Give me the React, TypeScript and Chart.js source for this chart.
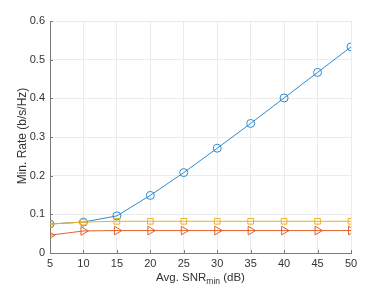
import React, { useEffect, useRef } from "react";
import { Chart, registerables } from "chart.js";

Chart.register(...registerables);

const snr = [5, 10, 15, 20, 25, 30, 35, 40, 45, 50];
const blueRate = [0.075, 0.08, 0.096, 0.149, 0.208, 0.271, 0.335, 0.401, 0.467, 0.533];
const orangeRate = [0.046, 0.057, 0.058, 0.058, 0.058, 0.058, 0.058, 0.058, 0.058, 0.058];
const yellowRate = [0.075, 0.08, 0.082, 0.082, 0.082, 0.082, 0.082, 0.082, 0.082, 0.082];
const yTicks = [0, 0.1, 0.2, 0.3, 0.4, 0.5, 0.6];

const FONT = "'Liberation Sans', Arial, Helvetica, sans-serif";
const TEXT = "#333333";
const AXIS = "#7a7a7a";

const titlesPlugin = {
  id: "titles",
  afterDraw(chart: any) {
    const { ctx, chartArea, scales } = chart;
    ctx.save();
    // inward tick marks
    ctx.strokeStyle = AXIS;
    ctx.lineWidth = 1;
    ctx.beginPath();
    snr.forEach((v) => {
      const px = Math.round(scales.x.getPixelForValue(v)) + 0.5;
      ctx.moveTo(px, chartArea.bottom);
      ctx.lineTo(px, chartArea.bottom - 3);
    });
    yTicks.forEach((v) => {
      const py = Math.round(scales.y.getPixelForValue(v)) + 0.5;
      ctx.moveTo(chartArea.left, py);
      ctx.lineTo(chartArea.left + 3, py);
    });
    ctx.stroke();

    ctx.fillStyle = TEXT;
    // x title with subscript
    const main1 = "Avg. SNR";
    const sub = "min";
    const main2 = " (dB)";
    const big = `11.5px ${FONT}`;
    const small = `8.5px ${FONT}`;
    ctx.font = big;
    const w1 = ctx.measureText(main1).width;
    const w3 = ctx.measureText(main2).width;
    ctx.font = small;
    const w2 = ctx.measureText(sub).width;
    const total = w1 + w2 + w3;
    const cx = (chartArea.left + chartArea.right) / 2;
    let x = cx - total / 2;
    const baseY = 281;
    ctx.textBaseline = "alphabetic";
    ctx.textAlign = "left";
    ctx.font = big;
    ctx.fillText(main1, x, baseY);
    x += w1;
    ctx.font = small;
    ctx.fillText(sub, x, baseY + 3);
    x += w2;
    ctx.font = big;
    ctx.fillText(main2, x, baseY);
    // y title
    ctx.translate(23, (chartArea.top + chartArea.bottom) / 2 - 1);
    ctx.rotate(-Math.PI / 2);
    ctx.textAlign = "center";
    ctx.textBaseline = "middle";
    ctx.font = `12px ${FONT}`;
    ctx.fillText("Min. Rate (b/s/Hz)", 0, 0);
    ctx.restore();
  },
};

export default function App() {
  const ref = useRef<HTMLCanvasElement>(null);
  useEffect(() => {
    const mk = (data: number[]) => snr.map((x, i) => ({ x, y: data[i] }));
    const chart = new Chart(ref.current!, {
      type: "line",
      data: {
        datasets: [
          {
            data: mk(yellowRate),
            borderColor: "#EDB120",
            backgroundColor: "rgba(0,0,0,0)",
            borderWidth: 1,
            pointStyle: "rect",
            pointRadius: 4,
            pointBorderWidth: 1,
            pointBorderColor: "#EDB120",
            pointBackgroundColor: "rgba(0,0,0,0)",
            order: 0,
          },
          {
            data: mk(orangeRate),
            borderColor: "#E0602F",
            backgroundColor: "rgba(0,0,0,0)",
            borderWidth: 1,
            pointStyle: "triangle",
            pointRotation: 90,
            pointRadius: 5,
            pointBorderWidth: 1,
            pointBorderColor: "#E0602F",
            pointBackgroundColor: "rgba(0,0,0,0)",
            order: 1,
          },
          {
            data: mk(blueRate),
            borderColor: "#2E8BD0",
            backgroundColor: "rgba(0,0,0,0)",
            borderWidth: 1,
            pointStyle: "circle",
            pointRadius: 4,
            pointBorderWidth: 1,
            pointBorderColor: "#2E8BD0",
            pointBackgroundColor: "rgba(0,0,0,0)",
            order: 2,
          },
        ],
      },
      options: {
        animation: false,
        responsive: false,
        events: [],
        layout: { padding: { left: 0, right: 37, top: 21, bottom: 0 } },
        plugins: { legend: { display: false }, tooltip: { enabled: false } },
        scales: {
          x: {
            type: "linear",
            min: 5,
            max: 50,
            afterFit: (s: any) => {
              s.height = 35;
            },
            afterBuildTicks: (s: any) => {
              s.ticks = snr.map((v) => ({ value: v }));
            },
            ticks: { color: TEXT, font: { family: FONT, size: 11 }, padding: 4, maxRotation: 0 },
            grid: { color: "#ebebeb", drawTicks: false },
            border: { color: AXIS, width: 1 },
          },
          y: {
            min: 0,
            max: 0.6,
            afterFit: (s: any) => {
              s.width = 50;
            },
            afterBuildTicks: (s: any) => {
              s.ticks = yTicks.map((v) => ({ value: v }));
            },
            ticks: {
              color: TEXT,
              font: { family: FONT, size: 11 },
              padding: 5,
              callback: (v: any) => String(Math.round(v * 10) / 10),
            },
            grid: { color: "#ebebeb", drawTicks: false },
            border: { color: AXIS, width: 1 },
          },
        },
      },
      plugins: [titlesPlugin],
    });
    return () => chart.destroy();
  }, []);
  return (
    <div style={{ position: "fixed", left: 0, top: 0, width: 388, height: 288, background: "#fff" }}>
      <canvas ref={ref} width={388} height={288} style={{ width: 388, height: 288 }} />
    </div>
  );
}
